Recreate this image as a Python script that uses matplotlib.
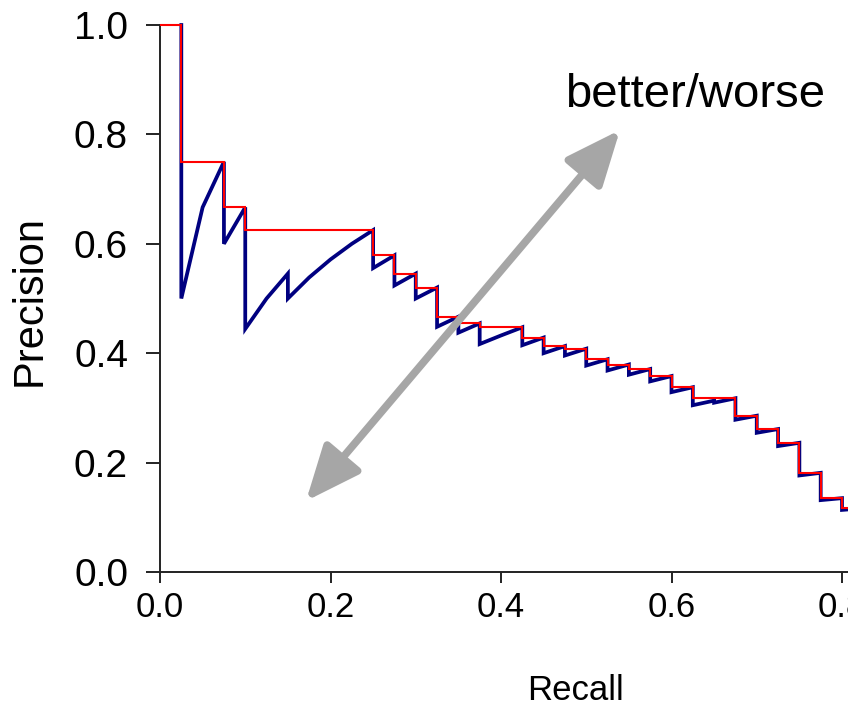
import matplotlib
matplotlib.use("Agg")
import matplotlib.pyplot as plt
from matplotlib.patches import FancyArrowPatch

# Blue: raw precision/recall vertices (recall, precision)
recall_pts = [0.025, 0.025, 0.050, 0.075, 0.075, 0.100, 0.100, 0.125, 0.150, 0.150,
              0.175, 0.200, 0.225, 0.250, 0.250, 0.275, 0.275, 0.300, 0.300, 0.325,
              0.325, 0.350, 0.350, 0.375, 0.375, 0.400, 0.425, 0.425, 0.450, 0.450,
              0.475, 0.475, 0.500, 0.500, 0.525, 0.525, 0.550, 0.550, 0.575, 0.575,
              0.600, 0.600, 0.625, 0.625, 0.650, 0.650, 0.675, 0.675, 0.700, 0.700,
              0.725, 0.725, 0.750, 0.750, 0.775, 0.775, 0.800, 0.800, 0.825]
precision_pts = [1.0000, 0.5000, 0.6667, 0.7500, 0.6000, 0.6667, 0.4444, 0.5000, 0.5455, 0.5000,
                 0.5385, 0.5714, 0.6000, 0.6250, 0.5556, 0.5789, 0.5238, 0.5455, 0.5000, 0.5200,
                 0.4483, 0.4667, 0.4375, 0.4545, 0.4167, 0.4324, 0.4474, 0.4146, 0.4286, 0.4000,
                 0.4130, 0.3958, 0.4082, 0.3774, 0.3889, 0.3684, 0.3793, 0.3607, 0.3710, 0.3485,
                 0.3582, 0.3288, 0.3378, 0.3049, 0.3133, 0.3095, 0.3176, 0.2784, 0.2857, 0.2545,
                 0.2613, 0.2302, 0.2362, 0.1765, 0.1813, 0.1314, 0.1350, 0.1135, 0.1166]

# Red: interpolated precision, step levels between recall edges
interp_edges = [0.000, 0.025, 0.050, 0.075, 0.100, 0.125, 0.150, 0.175, 0.200, 0.225,
                0.250, 0.275, 0.300, 0.325, 0.350, 0.375, 0.400, 0.425, 0.450, 0.475,
                0.500, 0.525, 0.550, 0.575, 0.600, 0.625, 0.650, 0.675, 0.700, 0.725,
                0.750, 0.775, 0.800, 0.825]
interp_precision = [1.0000, 0.7500, 0.7500, 0.6667, 0.6250, 0.6250, 0.6250, 0.6250, 0.6250, 0.6250,
                    0.5789, 0.5455, 0.5200, 0.4667, 0.4545, 0.4474, 0.4474, 0.4286, 0.4130, 0.4082,
                    0.3889, 0.3793, 0.3710, 0.3582, 0.3378, 0.3176, 0.3176, 0.2857, 0.2613, 0.2362,
                    0.1813, 0.1350, 0.1166]

x_ticks = [0.0, 0.2, 0.4, 0.6, 0.8]
x_ticklabels = ["0.0", "0.2", "0.4", "0.6", "0.8"]
y_ticks = [0.0, 0.2, 0.4, 0.6, 0.8, 1.0]
y_ticklabels = ["0.0", "0.2", "0.4", "0.6", "0.8", "1.0"]

plt.rcParams["font.family"] = ["Liberation Sans", "DejaVu Sans"]

W, H = 848, 715
fig = plt.figure(figsize=(W / 100, H / 100), dpi=100)
x0_px, ppu_x = 160, 852.5
y0_px, ppu_y = 572, 547
xmax = 0.85
ax = fig.add_axes([x0_px / W, (H - y0_px) / H, xmax * ppu_x / W, ppu_y / H])
ax.set_xlim(0, xmax)
ax.set_ylim(0, 1.0)

ax.plot(recall_pts, precision_pts, color="#000080", lw=2.7, clip_on=False, zorder=3,
        solid_joinstyle="miter")
ax.stairs(interp_precision, interp_edges, baseline=None, color="#ff0000", lw=1.5,
          clip_on=False, zorder=4)

for s in ["top", "right"]:
    ax.spines[s].set_visible(False)
for s in ["left", "bottom"]:
    ax.spines[s].set_linewidth(1.4)
    ax.spines[s].set_color("#222222")

ax.set_xticks(x_ticks)
ax.set_xticklabels(x_ticklabels, fontsize=25)
ax.set_yticks(y_ticks)
ax.set_yticklabels(y_ticklabels, fontsize=28)
ax.tick_params(axis="both", direction="out", width=1.4, color="#222222")
ax.tick_params(axis="x", length=8, pad=6)
ax.tick_params(axis="y", length=10, pad=13)

fig.text(30 / W, 1 - 300 / H, "Precision", rotation=90, fontsize=30,
         ha="center", va="center")
fig.text(575 / W, 1 - 690 / H, "Recall", fontsize=25, ha="center", va="center")
fig.text(695 / W, 1 - 95 / H, "better/worse", fontsize=34, ha="center", va="center")

arrow = FancyArrowPatch((306, H - 501), (620, H - 130), transform=None,
                        arrowstyle="<|-|>,head_length=2.8,head_width=1.2",
                        mutation_scale=12, lw=5.5, color="#a6a6a6", shrinkA=0, shrinkB=0)
fig.patches.append(arrow)

fig.savefig("out.png", dpi=100)
